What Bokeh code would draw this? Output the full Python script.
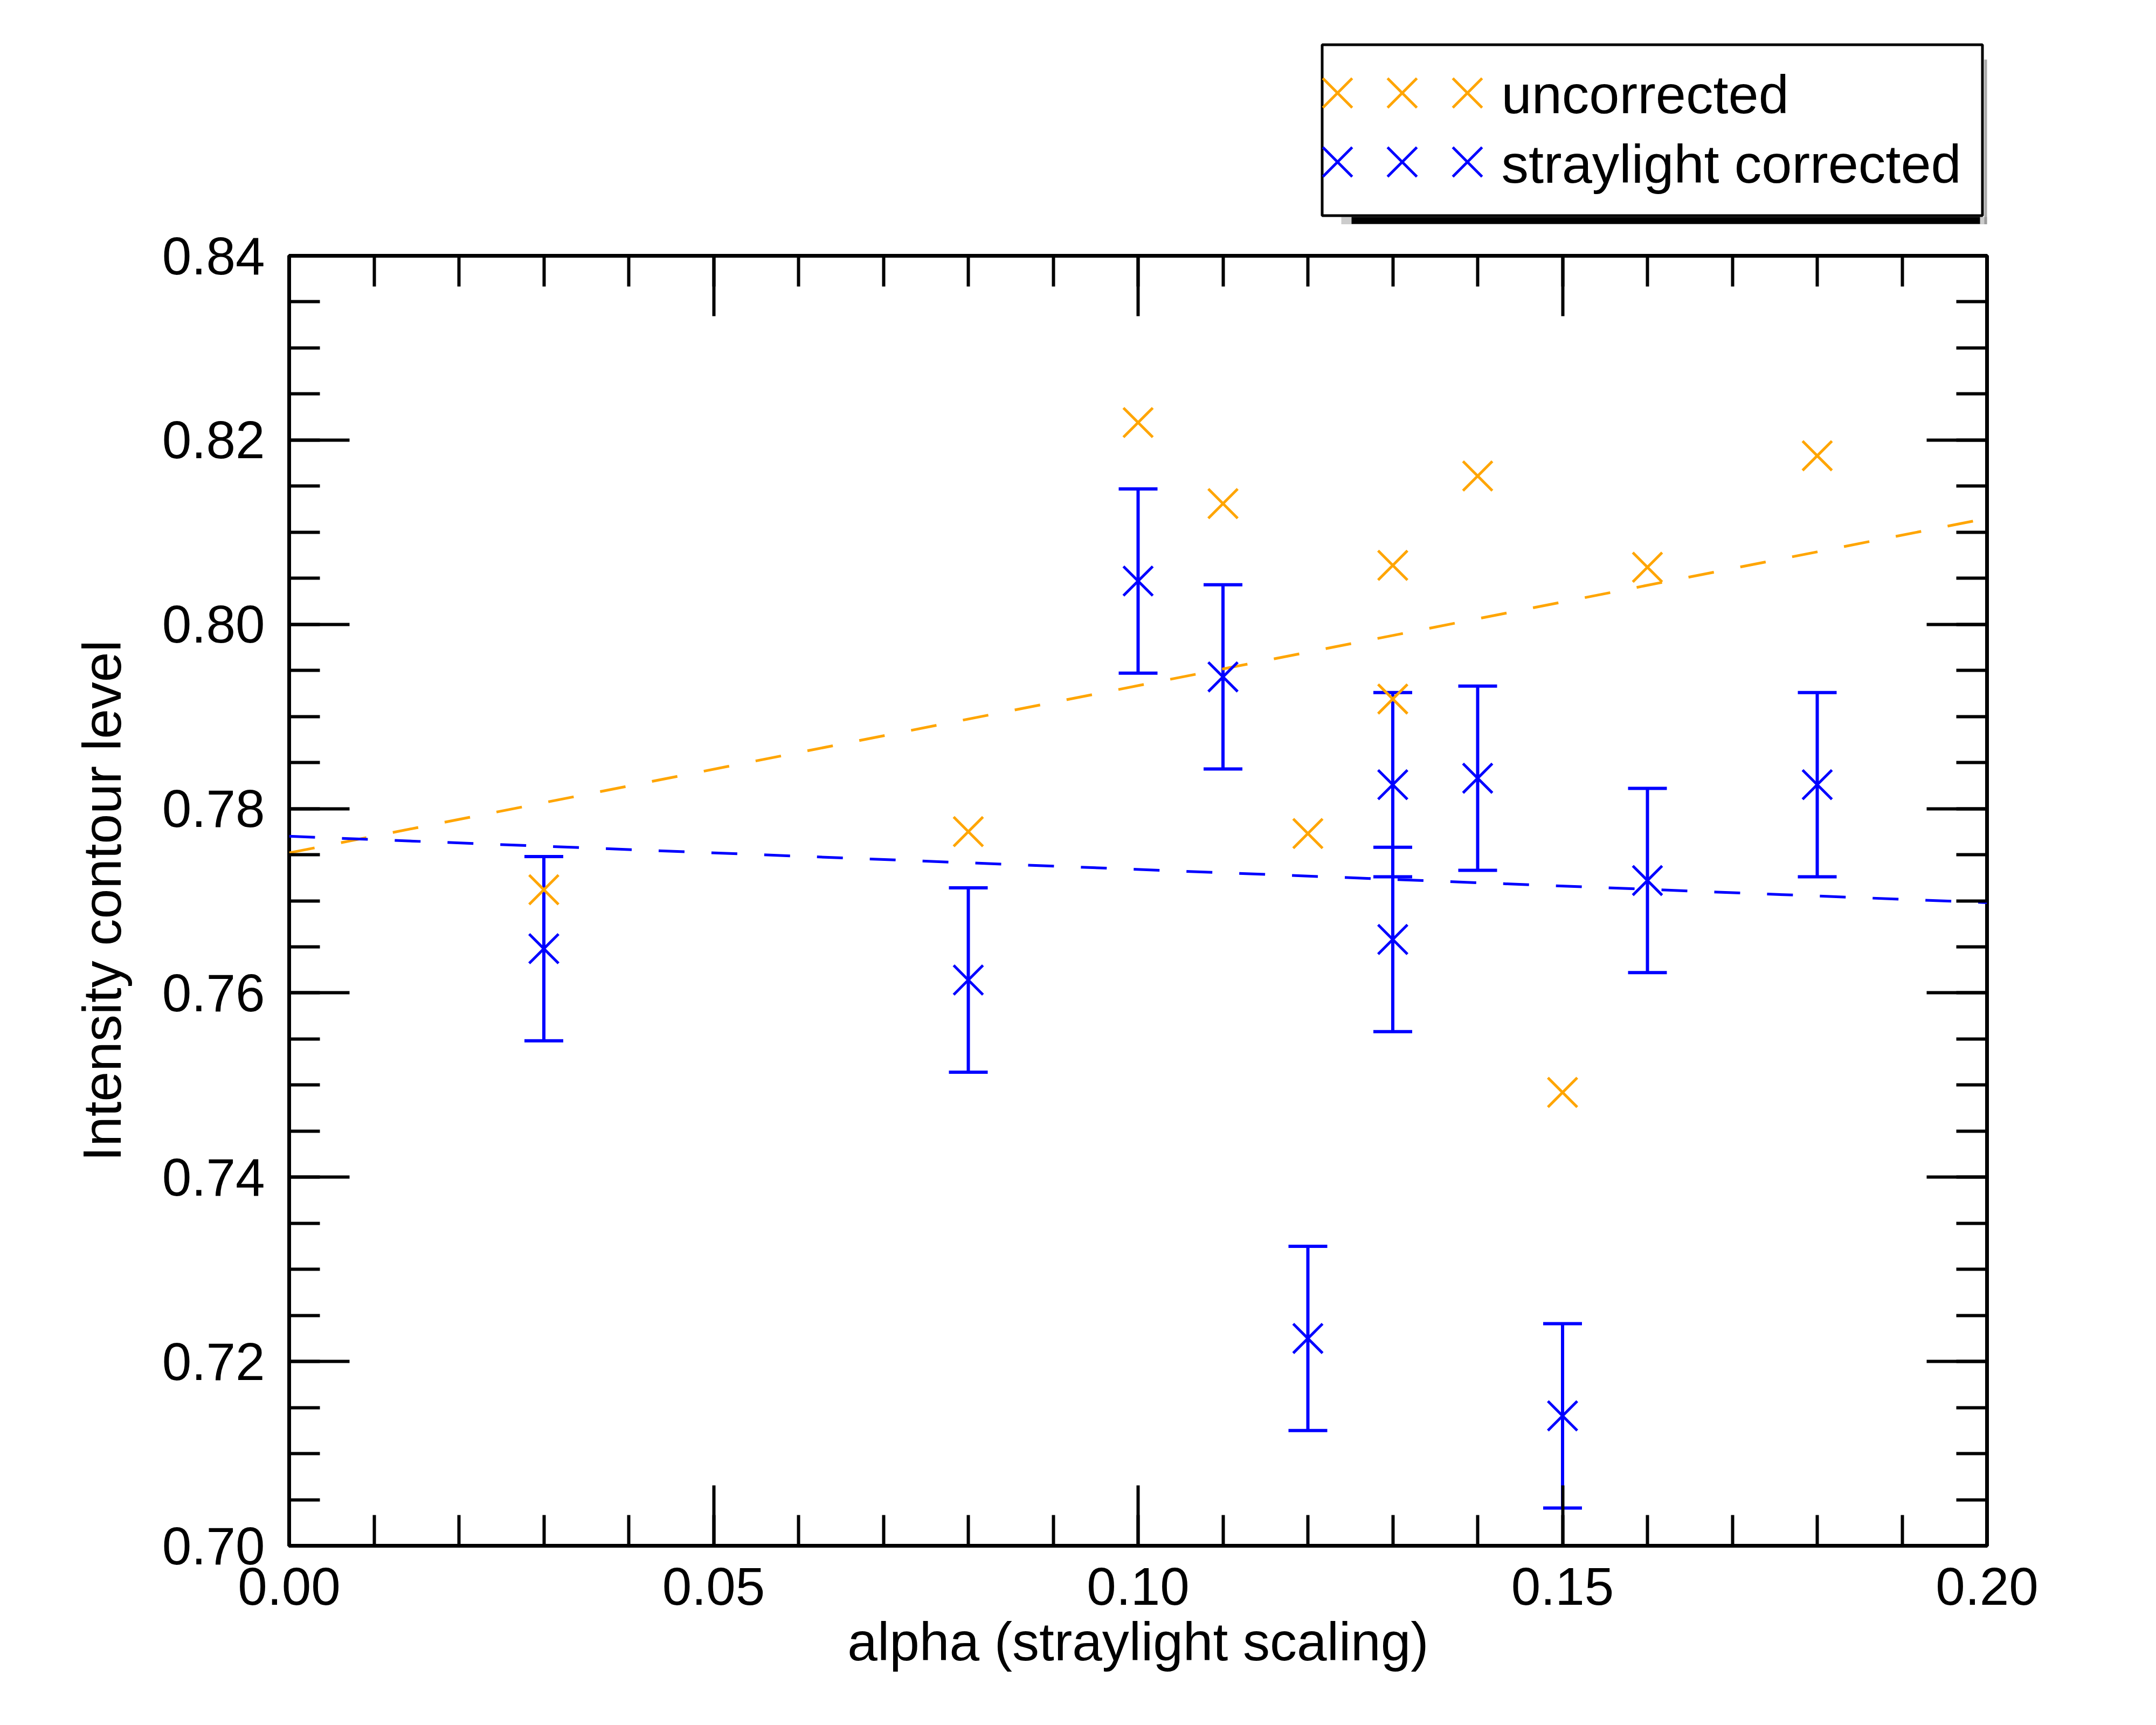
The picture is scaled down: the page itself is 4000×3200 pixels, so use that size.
from bokeh.plotting import figure
from bokeh.layouts import column
from bokeh.models import (Range1d, LinearAxis, SingleIntervalTicker, PrintfTickFormatter,
                          ColumnDataSource, Whisker, TeeHead, CustomLabelingPolicy)
from bokeh.core.properties import value
from bokeh.embed import file_html
from bokeh.resources import INLINE

# ---------------- data ----------------
alpha_unc = [0.03, 0.08, 0.10, 0.11, 0.12, 0.13, 0.13, 0.14, 0.15, 0.16, 0.18]
level_unc = [0.7712, 0.7775, 0.8219, 0.8131, 0.7773, 0.8064, 0.7919, 0.8161, 0.7492, 0.8062, 0.8183]

alpha_cor = [0.03, 0.08, 0.10, 0.11, 0.12, 0.13, 0.13, 0.14, 0.15, 0.16, 0.18]
level_cor = [0.7648, 0.7614, 0.8047, 0.7943, 0.7225, 0.7826, 0.7658, 0.7833, 0.7141, 0.7722, 0.7826]
err_cor = [0.01, 0.01, 0.01, 0.01, 0.01, 0.01, 0.01, 0.01, 0.01, 0.01, 0.01]

fit_alpha = [0.0, 0.2]
fit_unc = [0.7752, 0.8115]
fit_cor = [0.7770, 0.7698]

legend_labels = ["uncorrected", "straylight corrected"]

ORANGE = "#FFA500"
BLUE = "#0000FF"
FONT = "Liberation Sans"

# layout in picture pixels
W, H = 3984, 3184
FL, FR, FT, FB = 536, 3686, 474, 2867   # plot frame edges
BL, BR = FL, W - FR
LEG_H = 416                              # legend strip height

# ---------------- legend strip (above the plot) ----------------
lf = figure(width=W, height=LEG_H, x_range=Range1d(FL, FR), y_range=Range1d(LEG_H, 0),
            output_backend="svg", toolbar_location=None,
            min_border_left=BL, min_border_right=BR, min_border_top=0, min_border_bottom=0)
lf.axis.visible = False
lf.grid.visible = False
lf.outline_line_color = None
lf.background_fill_color = "white"

# shadow
lf.quad(left=[2488], right=[3689], top=[402], bottom=[416], fill_color="#aaaaaa", fill_alpha=0.6, line_color=None)
lf.quad(left=[3681], right=[3689], top=[110], bottom=[416], fill_color="#888888", fill_alpha=0.7, line_color=None)
lf.quad(left=[2507], right=[3673], top=[402], bottom=[415], fill_color="black", line_color=None)
# box
lf.quad(left=[2452.5], right=[3677.5], top=[82.5], bottom=[399.5], fill_color="white",
        line_color="black", line_width=5)

mx = [2481, 2601, 2722]
lf.scatter(x=mx, y=[172] * 3, marker="x", size=77, line_color=ORANGE, line_width=5)
lf.scatter(x=mx, y=[300] * 3, marker="x", size=77, line_color=BLUE, line_width=5)
lf.text(x=[2785, 2785], y=[174, 303], text=legend_labels, text_baseline="alphabetic",
        text_align="left", text_font=value(FONT), text_font_size="101px", text_color="black")

# ---------------- main plot ----------------
p = figure(width=W, height=H - LEG_H, x_range=Range1d(0, 0.2), y_range=Range1d(0.70, 0.84),
           output_backend="svg", toolbar_location=None,
           min_border_left=BL, min_border_right=BR, min_border_top=FT - LEG_H,
           min_border_bottom=H - FB)
p.grid.visible = False
p.outline_line_color = "black"
p.outline_line_width = 7
p.background_fill_color = "white"

xt = SingleIntervalTicker(interval=0.05, num_minor_ticks=5)
yt = SingleIntervalTicker(interval=0.02, num_minor_ticks=4)

def style_axis(ax, ticker, labels=True):
    ax.ticker = ticker
    ax.formatter = PrintfTickFormatter(format="%.2f")
    ax.axis_line_color = None
    ax.major_tick_in = 112
    ax.major_tick_out = 0
    ax.minor_tick_in = 57
    ax.minor_tick_out = 0
    ax.major_tick_line_width = 6
    ax.minor_tick_line_width = 6
    ax.major_tick_line_color = "black"
    ax.minor_tick_line_color = "black"
    if labels:
        ax.major_label_text_font = FONT
        ax.major_label_text_font_size = "98px"
        ax.major_label_text_color = "black"
        ax.axis_label_text_font = FONT
        ax.axis_label_text_font_size = "100px"
        ax.axis_label_text_font_style = "normal"
        ax.axis_label_text_color = "black"
    else:
        ax.major_label_policy = CustomLabelingPolicy(code="return []")
        ax.major_label_standoff = 0

style_axis(p.xaxis[0], xt)
style_axis(p.yaxis[0], yt)
p.xaxis[0].axis_label = "alpha (straylight scaling)"
p.yaxis[0].axis_label = "Intensity contour level"
p.xaxis[0].major_label_standoff = 41
p.yaxis[0].major_label_standoff = 45
p.xaxis[0].axis_label_standoff = 9
p.yaxis[0].axis_label_standoff = 53

top_ax = LinearAxis()
right_ax = LinearAxis()
style_axis(top_ax, SingleIntervalTicker(interval=0.05, num_minor_ticks=5), labels=False)
style_axis(right_ax, SingleIntervalTicker(interval=0.02, num_minor_ticks=4), labels=False)
p.add_layout(top_ax, "above")
p.add_layout(right_ax, "right")

src = ColumnDataSource(dict(
    x=alpha_cor, y=level_cor,
    lower=[v - e for v, e in zip(level_cor, err_cor)],
    upper=[v + e for v, e in zip(level_cor, err_cor)],
))

p.scatter(alpha_unc, level_unc, marker="x", size=77, line_color=ORANGE, line_width=5)
p.line(fit_alpha, fit_unc, line_color=ORANGE, line_width=5, line_dash="48 50")

wh = Whisker(source=src, base="x", lower="lower", upper="upper",
             line_color=BLUE, line_width=6,
             lower_head=TeeHead(size=72, line_color=BLUE, line_width=6),
             upper_head=TeeHead(size=72, line_color=BLUE, line_width=6))
p.add_layout(wh)
p.scatter("x", "y", source=src, marker="x", size=77, line_color=BLUE, line_width=5)
p.line(fit_alpha, fit_cor, line_color=BLUE, line_width=5, line_dash="48 50")

layout = column(lf, p, spacing=0)
open("out.html", "w").write(file_html(layout, INLINE))
